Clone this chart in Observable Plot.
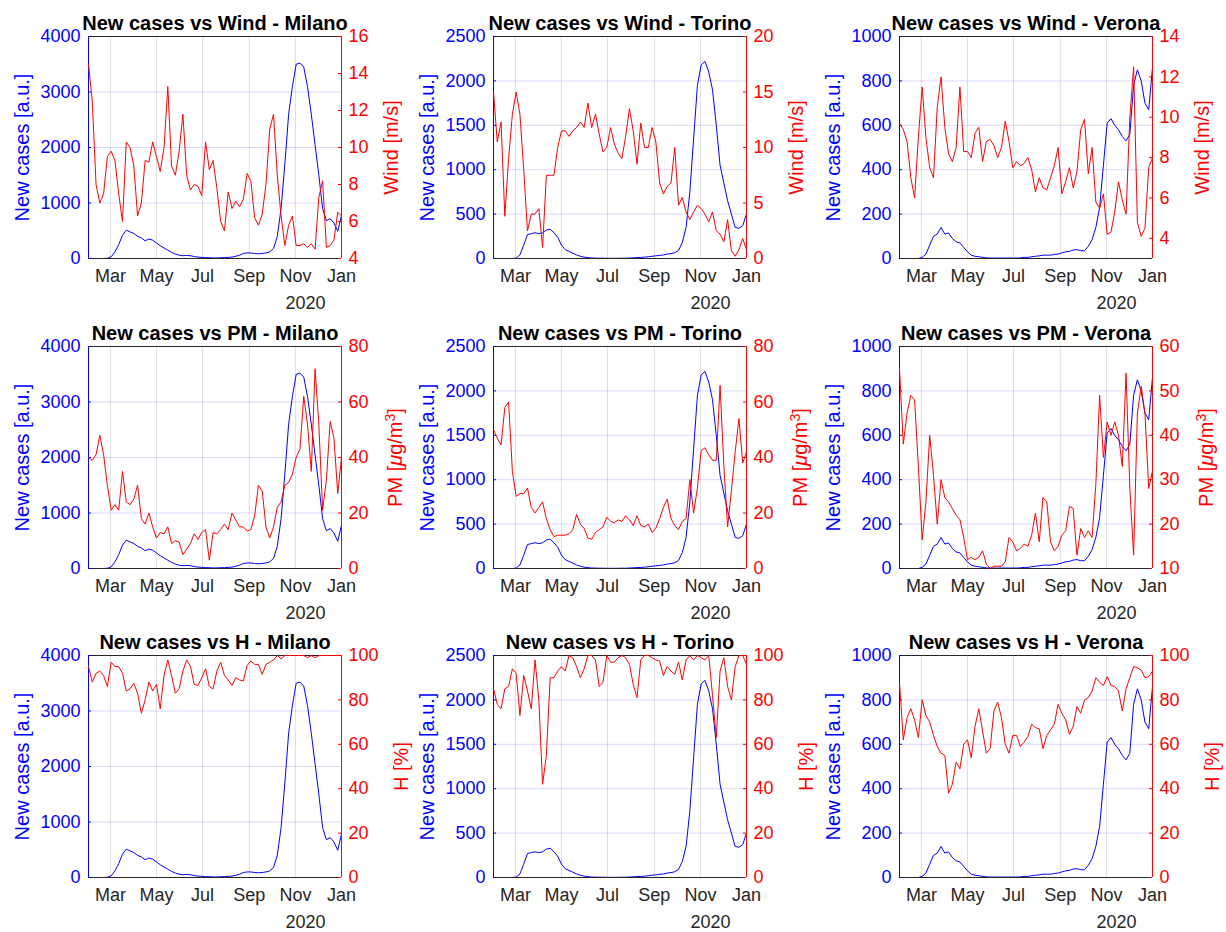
<!DOCTYPE html>
<html><head><meta charset="utf-8">
<script src="https://cdn.jsdelivr.net/npm/d3@7"></script>
<script src="https://cdn.jsdelivr.net/npm/@observablehq/plot@0.6"></script>
<style>
body { margin:0; background:#fff; }
#fig { position: relative; width:1226px; height:932px; background:#fff; overflow:hidden; }
.panel { position:absolute; width:413px; height:314px; }
.panel svg { position:absolute; left:0; top:0; max-width:none !important; }
#err { position:absolute; left:10px; top:10px; font: 14px monospace; color:#000; white-space:pre-wrap; }
</style></head><body><div id="fig"></div><div id="err"></div>
<script>
window.onerror = function(msg, src, line, col, err) { document.getElementById("err").textContent += "ERR: " + msg + " @" + line + ":" + col + "\n"; };
</script>
<script>
// ---------------- DATA ----------------
const cities = ["Milano", "Torino", "Verona"];
const variables = ["Wind", "PM", "H"];
const monthTicks = ["2020-03-01", "2020-05-01", "2020-07-01", "2020-09-01", "2020-11-01", "2021-01-01"];
const xStartStr = "2020-02-01", xEndStr = "2021-01-01";
const stepDays = 5; // one sample every 5 days from 2020-02-01

const casesMilano = [0,0,0,0,0,5,30,120,250,420, 510,480,450,400,370,320,350,330,280,230, 190,150,110,80,60,50,55,50,35,25, 20,15,15,10,10,15,15,20,25,40, 60,90,100,100,90,85,90,100,120,180, 400,900,1700,2600,3100,3500,3520,3450,3100,2600, 2050,1500,900,680,720,640,490,780];
const casesTorino = [0,0,0,0,0,0,5,40,150,270, 280,290,280,290,320,330,290,240,150,100, 80,60,40,25,15,10,5,5,3,3, 2,2,2,2,3,3,5,8,10,12, 15,20,25,30,35,40,50,55,65,90, 180,350,750,1350,1950,2180,2220,2100,1900,1500, 1050,850,650,500,350,340,370,500];
const casesVerona = [0,0,0,0,0,0,5,20,60,100, 110,140,110,115,90,75,70,50,30,15, 10,8,5,3,2,2,2,2,2,2, 2,2,3,5,5,8,10,12,15,15, 15,18,20,25,30,32,38,40,35,35, 55,85,140,230,420,610,630,600,580,550, 530,560,780,850,800,700,670,860];

const windMilano = [14.5,12.5,8.0,7.0,7.5,9.5,9.8,9.3,7.5,6.0, 10.3,10.0,9.0,6.3,7.0,9.3,9.2,10.3,9.5,8.7, 10.0,13.3,9.0,8.5,9.8,11.8,8.5,7.7,8.0,7.9, 7.4,10.3,8.8,9.3,7.8,6.0,5.5,7.6,6.7,7.1, 6.8,7.2,8.6,8.2,6.2,5.8,6.4,8.0,11.0,11.8, 8.5,6.3,4.7,5.8,6.3,4.7,4.7,4.8,4.6,4.8, 4.5,7.3,8.2,4.6,4.7,5.0,6.5,6.3];
const windTorino = [15.0,10.5,12.3,3.8,9.0,13.0,15.0,13.0,8.0,2.5, 4.0,4.0,4.5,1.0,7.5,7.5,7.5,10.0,11.5,11.5, 11.0,11.5,11.8,12.3,11.8,14.0,11.8,13.0,11.2,9.6, 10.0,11.8,10.3,9.5,9.0,11.0,13.5,11.5,8.5,12.2, 10.0,10.0,11.8,10.5,6.8,5.8,6.5,6.8,10.0,4.8, 5.5,4.2,3.5,4.2,4.8,4.5,4.0,3.3,4.2,2.5, 2.2,1.5,3.5,0.7,0.2,0.8,1.8,0.8];
const windVerona = [9.7,9.4,8.8,7.0,6.0,9.0,11.5,9.0,7.5,7.0, 10.5,12.0,9.5,8.2,7.8,8.5,11.5,8.3,8.3,8.0, 9.2,9.5,7.8,8.8,8.9,8.6,8.0,8.5,9.8,8.8, 7.5,7.8,7.6,7.7,8.0,7.4,6.3,7.0,6.5,6.4, 7.0,7.6,8.5,6.2,6.8,7.5,6.5,7.3,9.4,9.9, 7.2,8.5,5.8,5.5,6.2,4.2,4.3,5.3,6.8,5.9, 5.2,10.0,12.5,4.8,4.1,4.5,7.5,8.0];

const pmMilano = [40,39,41,48,41,30,21,23,21,35, 24,23,25,30,18,16,20,15,11,13, 12.5,15,9,10,9.5,5,7,9,12.5,10.5, 13,14,3,13,12.5,14,16,14,20,17.5, 15,15,13.5,14,19,30,28,15,11,15, 22,24,30,31,34,40,43,62,52,35, 72,52,21,32,53,47,27,40];
const pmTorino = [50,47,44.5,58,60,35,26,27,27,29, 22,20,22,24,18,14,11.5,12,12,12, 12.5,14,19.5,16,14.5,11,10.5,13,14,15, 18.5,17,16.5,17.5,17,19,17.5,15.5,19,15.5, 15,16,13,14.5,18,22,25,18,15.5,14, 17,18,32,20,29,42.5,43.5,41,39,39, 66,37,15,28,42,54,38,42];
const pmVerona = [55,38,45,49,48,33,16.5,25,40,31, 20,30,26,25,23.5,22,21,17,12,12.5, 12,12.5,14,11,10,10.5,10.5,10.5,11.5,17, 16,14,14.5,15.5,15,17.5,22.5,16,26,25, 16,14,15,17.5,18.5,24,23.5,13,19,17, 18.5,17,29,49,35,43,40,43,40,33, 54,28,13,45,51,45,28,32];

const hMilano = [95,88,92,93,91,86,97,95,95,92, 84,85,87.5,83,74,80,88,84,87,76, 91,98,91,83,85,93,98,95,87,86.5, 90,94,86,85,93,97,91,89,86.5,90, 89,88.5,95.5,97.5,96,96,91.5,96,97,98, 100,98.5,100,100,100,100,100,100,99,100, 99,100,100,100,100,100,100,100];
const hTorino = [85,78,76,85,86,94,92,73,91,84, 76,98,80,42,55,90,90,93,95,93, 100,99,95,90,94,100,100,98,86,88, 100,97,97,99,100,99,96,87,81,98, 100,100,99,98,97.5,91,95,93,91.5,97, 89,98,100,98,100,99,98,100,82,63, 93,99,86,80,95,100,100,96];
const hVerona = [88,62,72,76,71,63,80,73,70,64, 59,56,55,38,42,52,49,60,62,54, 68,76,66,56,58,75,79,72,60,56, 64,64,59,61,63.5,69,67.5,67,58,64, 66.5,69,78,74,71,64.5,68,77,74,80, 81,84,90,88,86.5,90.5,86.5,86,84,75, 85,90,95,94.5,93.5,90,90.5,93];

const casesTicksMilano = [0,1000,2000,3000,4000];
const casesTicksTorino = [0,500,1000,1500,2000,2500];
const casesTicksVerona = [0,200,400,600,800,1000];
const windTicksMilano = [4,6,8,10,12,14,16];
const windTicksTorino = [0,5,10,15,20];
const windTicksVerona = [4,6,8,10,12,14];
const windDomainVerona = [3,14];
const pmTicksMilano = [0,20,40,60,80];
const pmTicksTorino = [0,20,40,60,80];
const pmTicksVerona = [10,20,30,40,50,60];
const hTicks = [0,20,40,60,80,100];

const leftLabel = "New cases [a.u.]";
const rightLabels = {Wind: "Wind [m/s]", PM: "PM [μg/m3]", H: "H [%]"};
const yearLabel = "2020";

// ---------------- LAYOUT ----------------
const FONT = '"Liberation Sans", Arial, Helvetica, sans-serif';
const BLUE = "#0000ff", RED = "#ff0000", DARK = "#262626";
const plotLefts = [88, 493, 899];
const plotTops = [36, 346, 655];
const W = 253, H = 222, mL = 88, mR = 72, mT = 36, mB = 56;
const numFmt = d3.format("d");

const xStart = new Date(xStartStr), xEnd = new Date(xEndStr);
const xTicks = monthTicks.map(s => new Date(s));
const dates = casesMilano.map((_, i) => new Date(Date.UTC(2020, 1, 1 + i * stepDays)));

const casesBy = {
  Milano: {vals: casesMilano, ticks: casesTicksMilano},
  Torino: {vals: casesTorino, ticks: casesTicksTorino},
  Verona: {vals: casesVerona, ticks: casesTicksVerona}
};
const rightBy = {
  Wind: {
    Milano: {vals: windMilano, ticks: windTicksMilano, domain: [4, 16]},
    Torino: {vals: windTorino, ticks: windTicksTorino, domain: [0, 20]},
    Verona: {vals: windVerona, ticks: windTicksVerona, domain: windDomainVerona}
  },
  PM: {
    Milano: {vals: pmMilano, ticks: pmTicksMilano, domain: [0, 80]},
    Torino: {vals: pmTorino, ticks: pmTicksTorino, domain: [0, 80]},
    Verona: {vals: pmVerona, ticks: pmTicksVerona, domain: [10, 60]}
  },
  H: {
    Milano: {vals: hMilano, ticks: hTicks, domain: [0, 100]},
    Torino: {vals: hTorino, ticks: hTicks, domain: [0, 100]},
    Verona: {vals: hVerona, ticks: hTicks, domain: [0, 100]}
  }
};
const rightLabelOffset = {Wind: 50, PM: 54, H: 60};

const fig = document.getElementById("fig");

variables.forEach((variable, row) => {
  cities.forEach((city, col) => {
    try {
    const c = casesBy[city];
    const r = rightBy[variable][city];
    const data = dates.map((d, i) => ({date: d, cases: c.vals[i], v: r.vals[i]}));
    const div = document.createElement("div");
    div.className = "panel";
    div.style.left = (plotLefts[col] - mL) + "px";
    div.style.top = (plotTops[row] - mT) + "px";
    const common = {
      width: W + mL + mR, height: H + mT + mB,
      marginLeft: mL, marginRight: mR, marginTop: mT, marginBottom: mB,
      style: {background: "transparent", fontFamily: FONT, overflow: "visible", maxWidth: "none"}
    };
    const cDomain = [c.ticks[0], c.ticks[c.ticks.length - 1]];
    const blue = Plot.plot({
      ...common,
      x: {type: "utc", domain: [xStart, xEnd]},
      y: {domain: cDomain},
      marks: [
        Plot.ruleX(xTicks, {stroke: DARK, strokeOpacity: 0.15}),
        Plot.ruleY(c.ticks, {stroke: BLUE, strokeOpacity: 0.15}),
        Plot.line(data, {x: "date", y: "cases", stroke: BLUE, strokeWidth: 1}),
        Plot.ruleY(cDomain, {stroke: DARK}),
        Plot.ruleX([xStart], {stroke: BLUE}),
        Plot.tickY(c.ticks, {y: d => d, stroke: BLUE, insetRight: W - 3}),
        Plot.axisX({ticks: xTicks, tickFormat: d3.utcFormat("%b"), tickSize: 0, tickPadding: 11, fontSize: 18, color: DARK, label: null}),
        Plot.axisY({anchor: "left", ticks: c.ticks, tickFormat: numFmt, tickSize: 0, tickPadding: 8, fontSize: 18, color: BLUE, label: null}),
        Plot.text([`New cases vs ${variable} - ${city}`], {text: d => d, frameAnchor: "top", textAnchor: "middle", lineAnchor: "middle", dy: -13, fontSize: 20, fontWeight: "bold", fill: "#000"}),
        Plot.text([leftLabel], {text: d => d, frameAnchor: "left", textAnchor: "middle", lineAnchor: "middle", dx: -66, rotate: -90, fontSize: 20, fill: BLUE}),
        Plot.text([yearLabel], {text: d => d, frameAnchor: "bottom-right", textAnchor: "middle", lineAnchor: "middle", dx: -36, dy: 45, fontSize: 18, fill: DARK})
      ]
    });
    const red = Plot.plot({
      ...common,
      x: {type: "utc", domain: [xStart, xEnd], axis: null},
      y: {domain: r.domain},
      marks: [
        Plot.line(data, {x: "date", y: "v", stroke: RED, strokeWidth: 1}),
        Plot.ruleX([xEnd], {stroke: RED}),
        Plot.tickY(r.ticks, {y: d => d, stroke: RED, insetLeft: W - 3}),
        Plot.axisY({anchor: "right", ticks: r.ticks, tickFormat: numFmt, tickSize: 0, tickPadding: 7, fontSize: 18, color: RED, label: null}),
        Plot.text([rightLabels[variable]], {text: d => d, frameAnchor: "right", textAnchor: "middle", lineAnchor: "middle", dx: rightLabelOffset[variable], rotate: -90, fontSize: 20, fill: RED})
      ]
    });
    red.querySelectorAll("text").forEach(t => {
      if (t.textContent === rightLabels.PM) {
        const ns = "http://www.w3.org/2000/svg";
        while (t.firstChild) t.removeChild(t.firstChild);
        const parts = [["PM [", {}], ["μ", {"font-style": "italic"}], ["g/m", {}], ["3", {"dy": "-0.5em", "font-size": "14"}], ["]", {"dy": "0.35em"}]];
        parts.forEach(([s, attrs]) => {
          const ts = document.createElementNS(ns, "tspan");
          for (const k in attrs) ts.setAttribute(k, attrs[k]);
          ts.textContent = s;
          t.appendChild(ts);
        });
      }
    });
    div.appendChild(blue);
    div.appendChild(red);
    fig.appendChild(div);
    } catch (e) {
      document.getElementById("err").textContent += "ERR " + variable + " " + city + ": " + e.message + "\n";
    }
  });
});
</script>
</body></html>
